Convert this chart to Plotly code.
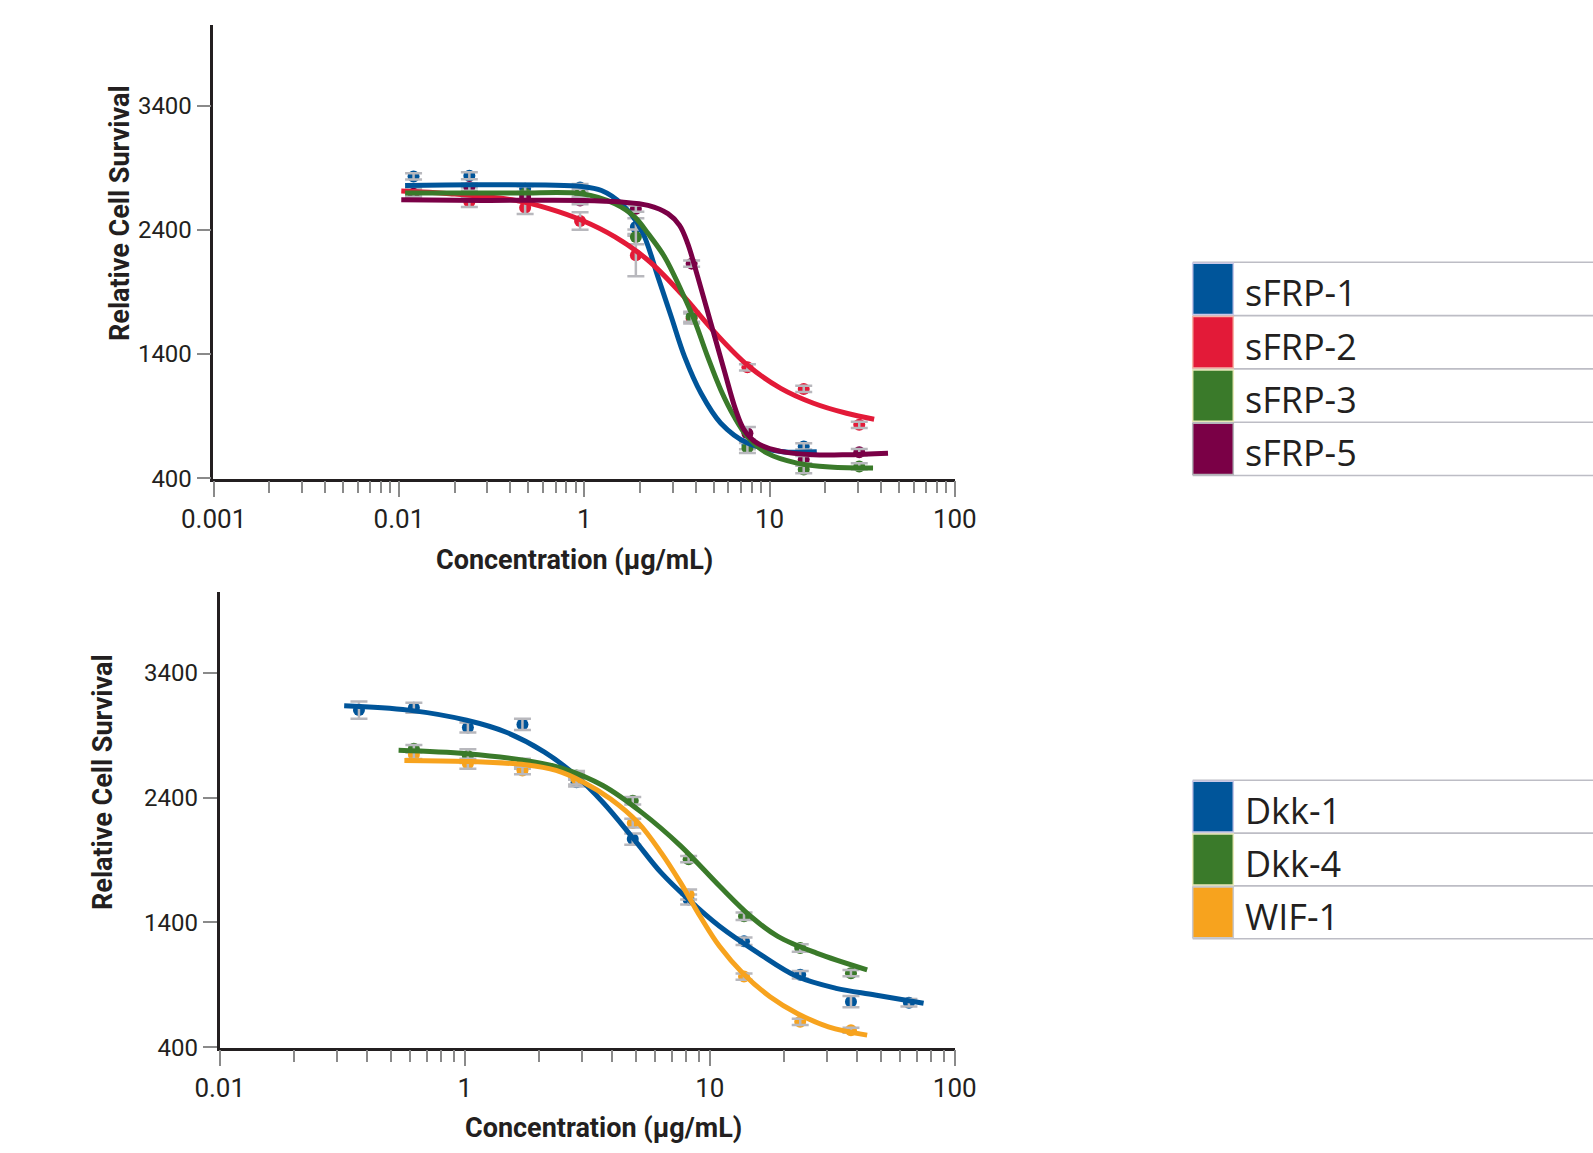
import plotly.graph_objects as go

W, H = 1593, 1153

# ---------------- sFRP panel ----------------
sfrp_names = ["sFRP-1", "sFRP-2", "sFRP-3", "sFRP-5"]
sfrp_colors = ["#00559a", "#e31a38", "#3a7a2a", "#7a0046"]
sfrp_border = ["#c8c8e8", "#f5b4a8", "#e8e8b8", "#b4b4b8"]
sfrp_conc = [0.12, 0.24, 0.48, 0.95, 1.9, 3.8, 7.6, 15.3, 30.5]

sfrp1_mean = [2830, 2836, 2730, 2740, 2423, None, 669, 656, None]
sfrp1_err = [25, 28, 30, 30, 70, None, 35, 25, None]
sfrp2_mean = [2696, 2624, 2578, 2471, 2196, 1686, 1293, 1119, 830]
sfrp2_err = [30, 40, 50, 70, 170, 40, 25, 25, 25]
sfrp3_mean = [2704, 2700, 2690, 2690, 2343, 1700, 643, 470, 495]
sfrp3_err = [30, 40, 60, 40, 60, 40, 40, 30, 25]
sfrp5_mean = [2691, 2744, 2664, 2637, 2570, 2128, 763, 550, 610]
sfrp5_err = [25, 30, 40, 30, 25, 25, 50, 30, 25]

# fitted response curves
sfrp1_fit_x = [0.108, 0.283, 0.97, 1.24, 1.59, 2.04, 2.50, 2.95, 3.48, 4.27, 5.46, 7.59, 11.5, 18.0]
sfrp1_fit_y = [2757, 2763, 2749, 2717, 2610, 2396, 2021, 1700, 1379, 1084, 843, 683, 616, 613]
sfrp2_fit_x = [0.103, 0.188, 0.427, 0.644, 0.97, 1.466, 2.211, 3.335, 5.03, 7.59, 11.5, 17.28, 26.06, 36.7]
sfrp2_fit_y = [2712, 2691, 2637, 2571, 2477, 2343, 2155, 1887, 1580, 1312, 1124, 1004, 923, 875]
sfrp3_fit_x = [0.108, 0.427, 0.97, 1.466, 1.876, 2.211, 2.716, 3.335, 3.93, 4.635, 5.46, 6.44, 7.59, 9.71, 14.06, 21.2, 36.2]
sfrp3_fit_y = [2696, 2696, 2691, 2610, 2503, 2370, 2182, 1914, 1673, 1379, 1111, 897, 736, 602, 522, 490, 482]
sfrp5_fit_x = [0.103, 0.283, 0.97, 1.59, 2.211, 2.83, 3.27, 3.62, 4.10, 4.83, 5.69, 6.57, 7.29, 8.59, 11.5, 17.28, 26.06, 43.6]
sfrp5_fit_y = [2642, 2637, 2637, 2624, 2597, 2530, 2436, 2289, 2021, 1646, 1271, 950, 790, 682, 616, 589, 589, 602]

# ---------------- Dkk / WIF panel ----------------
dkk_names = ["Dkk-1", "Dkk-4", "WIF-1"]
dkk_colors = ["#00559a", "#3a7a2a", "#f7a31e"]
dkk_border = ["#c8c8e8", "#e8e8b8", "#c8c8cc"]
dkk_conc = [0.37, 0.62, 1.03, 1.72, 2.86, 4.85, 8.2, 13.8, 23.4, 37.7, 65.0]

dkk1_mean = [3100, 3119, 2960, 2985, 2523, 2067, 1584, 1248, 980, 765, 757]
dkk1_err = [70, 40, 40, 45, 35, 45, 40, 30, 30, 45, 30]
dkk4_mean = [None, 2791, 2732, 2670, 2577, 2375, 1906, 1449, 1194, 993, None]
dkk4_err = [None, 30, 55, 40, 35, 30, 25, 30, 30, 25, None]
wif1_mean = [None, 2743, 2670, 2617, 2550, 2195, 1624, 966, 604, 537, None]
wif1_err = [None, 35, 40, 30, 45, 35, 40, 25, 25, 20, None]

dkk1_fit_x = [0.322, 0.589, 1.018, 1.468, 2.116, 2.834, 3.661, 4.90, 6.33, 8.18, 10.96, 15.79, 22.76, 32.8, 47.3, 74.6]
dkk1_fit_y = [3135, 3100, 3019, 2925, 2764, 2577, 2362, 2067, 1798, 1584, 1369, 1154, 966, 872, 819, 752]
dkk4_fit_x = [0.537, 1.018, 1.763, 2.54, 3.661, 5.27, 7.60, 10.96, 14.68, 18.96, 27.3, 43.9]
dkk4_fit_y = [2778, 2751, 2697, 2630, 2496, 2281, 2013, 1691, 1449, 1288, 1154, 1020]
wif1_fit_x = [0.567, 1.018, 1.763, 2.36, 3.05, 3.94, 5.09, 6.33, 7.60, 9.13, 10.96, 13.64, 17.62, 22.76, 30.5, 43.9]
wif1_fit_y = [2697, 2689, 2662, 2617, 2523, 2389, 2201, 1959, 1718, 1449, 1208, 993, 805, 671, 564, 497]

# axis tick labels
sfrp_tickvals = [0.01, 0.1, 1, 10, 100]
sfrp_ticktext = ["0.001", "0.01", "1", "10", "100"]
dkk_tickvals = [0.1, 1, 10, 100]
dkk_ticktext = ["0.01", "1", "10", "100"]
y_tickvals = [400, 1400, 2400, 3400]
y_ticktext = ["400", "1400", "2400", "3400"]

TXT = "#231f20"
GREY = "#b8b8bd"
TICKC = "#8a8a8a"
NARROW = "Roboto, Liberation Sans, sans-serif"
SANS = "Open Sans, Noto Sans, sans-serif"


def fx(px):
    return px / W


def fy(py):
    return 1 - py / H


fig = go.Figure()


def add_points(panel, conc, mean, err, color):
    xa, ya = ("x", "y") if panel == 1 else ("x2", "y2")
    fig.add_trace(go.Scatter(
        x=conc, y=mean, mode="markers", xaxis=xa, yaxis=ya,
        marker=dict(color=color, size=12), showlegend=False, hoverinfo="skip"))
    fig.add_trace(go.Scatter(
        x=conc, y=mean, mode="markers", xaxis=xa, yaxis=ya,
        marker=dict(color="rgba(0,0,0,0)", size=1),
        error_y=dict(type="data", array=err, color=GREY, thickness=2.5, width=8.5),
        showlegend=False, hoverinfo="skip"))


def add_fit(panel, fit_x, fit_y, color):
    xa, ya = ("x", "y") if panel == 1 else ("x2", "y2")
    fig.add_trace(go.Scatter(
        x=fit_x, y=fit_y, mode="lines", xaxis=xa, yaxis=ya,
        line=dict(color=color, width=5, shape="spline", smoothing=1.0),
        showlegend=False, hoverinfo="skip"))


sfrp_sets = [
    (sfrp1_mean, sfrp1_err, sfrp1_fit_x, sfrp1_fit_y),
    (sfrp2_mean, sfrp2_err, sfrp2_fit_x, sfrp2_fit_y),
    (sfrp3_mean, sfrp3_err, sfrp3_fit_x, sfrp3_fit_y),
    (sfrp5_mean, sfrp5_err, sfrp5_fit_x, sfrp5_fit_y),
]
dkk_sets = [
    (dkk1_mean, dkk1_err, dkk1_fit_x, dkk1_fit_y),
    (dkk4_mean, dkk4_err, dkk4_fit_x, dkk4_fit_y),
    (wif1_mean, wif1_err, wif1_fit_x, wif1_fit_y),
]

for (m, e, _, _), c in zip(sfrp_sets, sfrp_colors):
    add_points(1, sfrp_conc, m, e, c)
for (m, e, _, _), c in zip(dkk_sets, dkk_colors):
    add_points(2, dkk_conc, m, e, c)
for (_, _, fxv, fyv), c in zip(sfrp_sets, sfrp_colors):
    add_fit(1, fxv, fyv, c)
for (_, _, fxv, fyv), c in zip(dkk_sets, dkk_colors):
    add_fit(2, fxv, fyv, c)


def minor_vals(lo_exp, hi_exp):
    return [k * 10 ** e for e in range(lo_exp, hi_exp) for k in range(2, 10)]


def x_axis(domain, rng, tickvals, ticktext, minor, anchor):
    return dict(
        type="log", domain=domain, range=rng, anchor=anchor, automargin=False,
        showgrid=False, zeroline=False,
        showline=True, linecolor=TXT, linewidth=2.5,
        ticks="outside", ticklen=16, tickwidth=2, tickcolor=TICKC,
        tickvals=tickvals, ticktext=ticktext,
        tickfont=dict(family=NARROW, size=26, color=TXT),
        minor=dict(tickvals=minor, ticks="outside", ticklen=12, tickwidth=2,
                   tickcolor=TICKC, showgrid=False),
    )


def y_axis(domain, anchor):
    return dict(
        domain=domain, range=[398, 4046], anchor=anchor, automargin=False,
        showgrid=False, zeroline=False,
        showline=True, linecolor=TXT, linewidth=2.5,
        ticks="outside", ticklen=14, tickwidth=2, tickcolor=TICKC,
        tickvals=y_tickvals, ticktext=y_ticktext,
        tickfont=dict(family=NARROW, size=24, color=TXT),
    )


xa1 = x_axis([fx(213.4), fx(955)], [-2.001, 2.001], sfrp_tickvals, sfrp_ticktext, minor_vals(-2, 2), "y")
xa2 = x_axis([fx(219.5), fx(955)], [-1.001, 2.001], dkk_tickvals, dkk_ticktext, minor_vals(-1, 2), "y2")
ya1 = y_axis([fy(478.5), fy(25.4)], "x")
ya2 = y_axis([fy(1047.5), fy(592)], "x2")

annotations = []
shapes = []

# axis titles
for (cx, cy) in [(574, 560), (603, 1128)]:
    annotations.append(dict(
        text="<b>Concentration (µg/mL)</b>", x=fx(cx), y=fy(cy), xref="paper", yref="paper",
        xanchor="center", yanchor="middle", showarrow=False,
        font=dict(family=NARROW, size=27, color=TXT)))
for (cx, cy) in [(120, 213), (103, 782)]:
    annotations.append(dict(
        text="<b>Relative Cell Survival</b>", x=fx(cx), y=fy(cy), xref="paper", yref="paper",
        xanchor="center", yanchor="middle", showarrow=False, textangle=-90,
        font=dict(family=NARROW, size=27, color=TXT)))


# legend tables
def legend_table(top, row_h, names, colors, borders):
    sq_l, sq_r = 1192.7, 1233.3
    n = len(names)
    for i in range(n + 1):
        yy = top + i * row_h
        shapes.append(dict(type="line", xref="paper", yref="paper",
                           x0=fx(sq_l), x1=1.0, y0=fy(yy), y1=fy(yy),
                           line=dict(color="#bdbdc5", width=1.6)))
    for i, (name, col, bcol) in enumerate(zip(names, colors, borders)):
        y0 = top + i * row_h
        shapes.append(dict(type="rect", xref="paper", yref="paper",
                           x0=fx(sq_l), x1=fx(sq_r), y0=fy(y0 + 1), y1=fy(y0 + row_h - 1),
                           fillcolor=col, line=dict(color=bcol, width=1.5)))
        annotations.append(dict(
            text=name, x=fx(1243), y=fy(y0 + row_h / 2 + 4), xref="paper", yref="paper",
            xanchor="left", yanchor="middle", showarrow=False,
            font=dict(family=SANS, size=36, color=TXT)))


legend_table(262.3, 53.3, sfrp_names, sfrp_colors, sfrp_border)
legend_table(780.3, 52.8, dkk_names, dkk_colors, dkk_border)

fig.update_layout(
    width=W, height=H, margin=dict(l=0, r=0, t=0, b=0, pad=0, autoexpand=False),
    paper_bgcolor="white", plot_bgcolor="white",
    xaxis=xa1, yaxis=ya1, xaxis2=xa2, yaxis2=ya2,
    annotations=annotations, shapes=shapes, showlegend=False,
)

fig.write_html("out.html")
